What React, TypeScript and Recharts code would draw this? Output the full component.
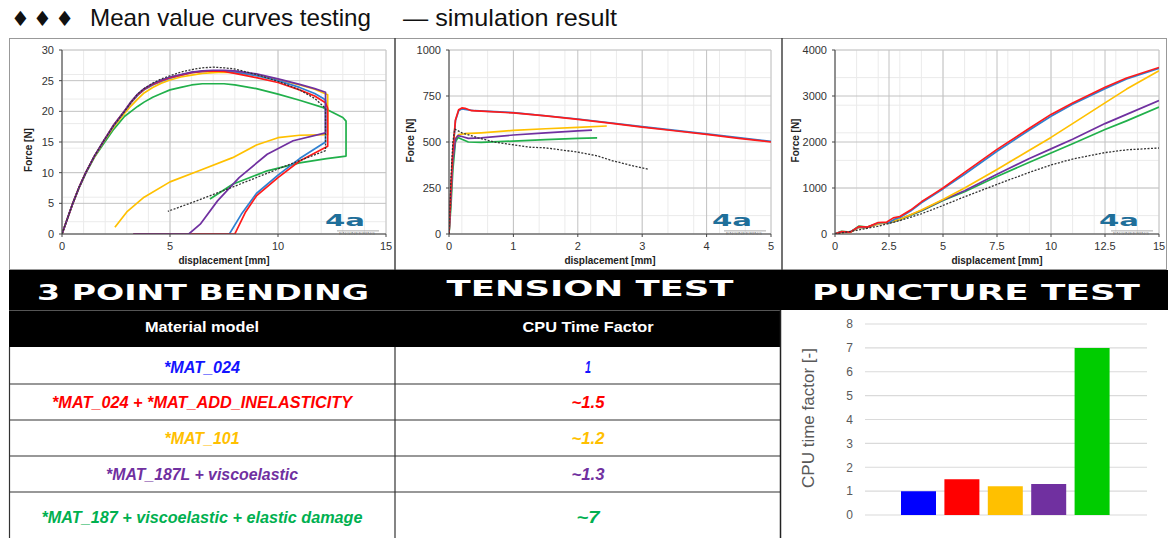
import React from 'react';
import { LineChart, Line, XAxis, YAxis, CartesianGrid, BarChart, Bar, Cell } from 'recharts';

type Pt = [number, number];

const FONT = "'Liberation Sans', Arial, Helvetica, sans-serif";
const NARROW = "'Liberation Sans Narrow', 'Arial Narrow', 'Liberation Sans', Arial, sans-serif";
const WIDE = "'DejaVu Sans', Verdana, sans-serif";

// ---------- 3 point bending: displacement [mm] vs force [N]
const bendX = [0, 5, 10, 15];
const bendY = [0, 5, 10, 15, 20, 25, 30];
const bendTest: Pt[] = [[0,0],[0.5,5],[0.8,7.7],[1.1,10],[1.5,12.7],[1.9,15],[2.4,17.7],[2.9,20],[3.2,21.5],[3.5,22.8],[3.8,23.7],[4.2,24.6],[4.6,25.3],[5,25.8],[5.5,26.4],[6,26.8],[6.5,27.1],[7,27.2],[7.5,27.1],[8,26.9],[9,26.0],[10,24.9],[11,23.5],[11.7,22.1],[12.2,20.5],[12.2,13.6],[10,10.6],[8,7.8],[6,5.1],[4.9,3.7]];
const bendBlue: Pt[] = [[0,0],[0.5,5],[0.8,7.7],[1.1,10],[1.5,12.7],[1.9,15],[2.4,17.7],[2.9,20],[3.2,21.4],[3.5,22.6],[3.8,23.5],[4.2,24.3],[4.6,24.9],[5,25.4],[5.5,25.9],[6,26.3],[6.5,26.5],[7,26.6],[7.5,26.6],[8,26.4],[9,25.8],[10,25.0],[11,23.9],[11.7,22.9],[12.1,22.1],[12.2,21.8],[12.2,15.0],[11,12.3],[10,9.6],[9,6.6],[8.3,3.2],[7.75,0],[6,0]];
const bendRed: Pt[] = [[0,0],[0.5,5],[0.8,7.7],[1.1,10],[1.5,12.7],[1.9,15],[2.4,17.8],[2.9,20.1],[3.2,21.5],[3.5,22.7],[3.8,23.6],[4.2,24.4],[4.6,25.0],[5,25.5],[5.5,25.9],[6,26.3],[6.5,26.5],[7,26.6],[7.5,26.5],[8,26.2],[9,25.5],[10,24.7],[11,23.5],[11.7,22.5],[12.2,21.4],[12.3,20.5],[12.3,14.3],[11,11.9],[10,9.2],[9,6.2],[8.5,3.6],[8.0,0],[3.3,0]];
const bendOrange: Pt[] = [[0,0],[0.5,5],[0.8,7.7],[1.1,10],[1.5,12.6],[1.9,14.9],[2.4,17.5],[2.9,19.7],[3.2,20.9],[3.5,22.0],[3.8,23.0],[4.2,23.9],[4.6,24.6],[5,25.1],[5.5,25.6],[6,25.9],[6.5,26.2],[7,26.3],[7.5,26.4],[8,26.3],[9,25.9],[10,25.2],[11,24.3],[11.7,23.6],[12.3,22.7],[12.3,16.2],[11,16.1],[10,15.7],[9,14.5],[7.9,12.45],[6.4,10.4],[5,8.5],[3.8,6.0],[3.0,3.6],[2.45,1.1]];
const bendPurple: Pt[] = [[0,0],[0.5,5],[0.8,7.7],[1.1,10],[1.5,12.7],[1.9,15],[2.4,17.8],[2.9,20.1],[3.2,21.6],[3.5,22.8],[3.8,23.7],[4.2,24.5],[4.6,25.1],[5,25.6],[5.5,26.0],[6,26.4],[6.5,26.6],[7,26.7],[7.5,26.7],[8,26.6],[9,26.1],[10,25.3],[11,24.4],[11.7,23.7],[12.2,23.1],[12.2,16.5],[10.7,15.2],[9.5,13.0],[8.2,9.2],[7.2,5.4],[6.4,1.6],[5.87,0],[3.3,0]];
const bendGreen: Pt[] = [[0,0],[0.5,5],[0.8,7.6],[1.1,9.9],[1.5,12.5],[1.9,14.6],[2.4,17.1],[2.9,19.2],[3.2,20.0],[3.5,20.8],[3.8,21.5],[4.2,22.3],[4.6,22.9],[5,23.5],[5.5,23.9],[6,24.3],[6.5,24.5],[6.8,24.5],[7.5,24.5],[8,24.3],[9,23.7],[10,22.8],[11,21.8],[12.1,20.6],[13.0,19.0],[13.15,18.4],[13.15,12.7],[12.25,12.3],[11,11.6],[9.5,10.3],[7.9,8.1],[6.85,5.7]];

// ---------- tension test
const tensX = [0, 1, 2, 3, 4, 5];
const tensY = [0, 250, 500, 750, 1000];
const tensTest: Pt[] = [[0,0],[0.03,300],[0.06,500],[0.09,570],[0.2,550],[0.45,523],[0.7,500],[1,485],[1.25,472],[1.5,468],[2,445],[2.3,425],[2.52,400],[2.8,375],[3.09,352]];
const tensBlue: Pt[] = [[0,0],[0.03,240],[0.06,440],[0.1,615],[0.15,670],[0.2,680],[0.3,675],[0.4,670],[1,660],[2,625],[3,584],[4,544],[5,503]];
const tensRed: Pt[] = [[0,0],[0.03,250],[0.06,450],[0.1,620],[0.15,675],[0.2,685],[0.25,683],[0.35,670],[0.5,668],[1,658],[1.5,642],[2,623],[2.5,603],[3,581],[3.5,561],[4,541],[4.5,520],[5,500]];
const tensOrange: Pt[] = [[0,0],[0.03,220],[0.06,420],[0.1,520],[0.15,540],[0.25,545],[0.5,550],[1,563],[1.5,572],[2,580],[2.45,587]];
const tensPurple: Pt[] = [[0,0],[0.03,200],[0.06,400],[0.1,515],[0.14,535],[0.2,530],[0.3,520],[0.5,522],[1,538],[1.5,550],[2,560],[2.22,565]];
const tensGreen: Pt[] = [[0,0],[0.03,150],[0.06,350],[0.1,500],[0.14,525],[0.2,515],[0.3,500],[0.5,498],[1,505],[1.5,513],[2,520],[2.3,522]];

// ---------- puncture test
const puncX = [0, 2.5, 5, 7.5, 10, 12.5, 15];
const puncY = [0, 1000, 2000, 3000, 4000];
const puncTest: Pt[] = [[0,0],[1,80],[2,170],[2.5,230],[3,290],[4,440],[5,620],[6,810],[7.5,1080],[9,1340],[10,1500],[11,1630],[12.5,1770],[13.5,1830],[15,1870]];
const puncBlue: Pt[] = [[0,0],[0.3,45],[0.7,40],[1.1,150],[1.5,145],[2,240],[2.5,250],[2.8,330],[3,360],[3.5,500],[4,680],[5,980],[6,1300],[7.5,1800],[9,2260],[10,2560],[11,2820],[12.5,3160],[13.5,3370],[15,3600]];
const puncRed: Pt[] = [[0,0],[0.3,50],[0.7,40],[1.1,160],[1.5,150],[2,250],[2.4,260],[2.7,350],[3,380],[3.5,520],[4,700],[4.5,850],[5,1000],[6,1340],[7.5,1840],[9,2300],[10,2600],[11,2850],[12.5,3190],[13.5,3390],[15,3620]];
const puncOrange: Pt[] = [[0,0],[0.3,40],[0.7,35],[1.1,140],[1.5,140],[2,220],[2.5,250],[3,320],[3.5,420],[4,520],[5,750],[6,1000],[7.5,1400],[9,1820],[10,2100],[11,2400],[12.5,2850],[13.5,3150],[15,3550]];
const puncPurple: Pt[] = [[0,0],[0.3,45],[0.7,38],[1.1,150],[1.5,145],[2,225],[2.5,245],[3,320],[4,510],[5,740],[6,940],[7.5,1300],[9,1640],[10,1850],[11,2060],[12.5,2400],[13.5,2600],[15,2900]];
const puncGreen: Pt[] = [[0,0],[0.3,60],[0.7,40],[1.1,170],[1.5,150],[2,230],[2.5,240],[3,310],[4,500],[5,730],[6,920],[7.5,1250],[9,1560],[10,1760],[11,1960],[12.5,2270],[13.5,2460],[15,2760]];

// ---------- CPU time
const modelNames = ['*MAT_024', '*MAT_024 + *MAT_ADD_INELASTICITY', '*MAT_101', '*MAT_187L + viscoelastic', '*MAT_187 + viscoelastic  + elastic damage'];
const cpuLabels = ['1', '~1.5', '~1.2', '~1.3', '~7'];
const cpuFactors = [1, 1.5, 1.2, 1.3, 7];
const cpuTicks = [0, 1, 2, 3, 4, 5, 6, 7, 8];

const C_BLUE = '#2f80d1';
const C_RED = '#ff1a1a';
const C_ORANGE = '#ffc000';
const C_PURPLE = '#7030a0';
const C_GREEN = '#21b04b';
const C_TEST = '#333333';
const TABLE_COLORS = ['#1414ff', '#ff0000', '#ffc000', '#7030a0', '#00b050'];
const BAR_COLORS = ['#0000ff', '#ff0000', '#ffc000', '#7030a0', '#00cc00'];

function steps(a: number, b: number, s: number): number[] {
  const out: number[] = [];
  const n = Math.round((b - a) / s);
  for (let i = 0; i <= n; i++) out.push(+(a + i * s).toFixed(4));
  return out;
}

type Series = { data: Pt[]; color: string; dotted?: boolean };

function CurveChart(p: {
  left: number; width: number; yAxisWidth: number; marginRight: number;
  xDomain: [number, number]; xTicks: number[]; xMinor: number[];
  yDomain: [number, number]; yTicks: number[]; yMinor: number[];
  series: Series[]; yLabelX: number; yLabelDy: number;
}) {
  const tickStyle = { fontSize: 11, fill: '#333', fontFamily: FONT };
  return (
    <div style={{ position: 'absolute', left: p.left, top: 38 }}>
      <LineChart width={p.width} height={232} margin={{ top: 12, right: p.marginRight, bottom: 0, left: 0 }}>
        <XAxis xAxisId="m" type="number" dataKey="x" domain={p.xDomain} ticks={p.xMinor} hide allowDataOverflow />
        <YAxis yAxisId="m" type="number" domain={p.yDomain} ticks={p.yMinor} hide allowDataOverflow />
        <CartesianGrid xAxisId="m" yAxisId="m" stroke="#ebebeb" strokeWidth={1} />
        <CartesianGrid stroke="#c2c2c2" strokeWidth={1} />
        <XAxis
          dataKey="x" type="number" domain={p.xDomain} ticks={p.xTicks} interval={0} allowDataOverflow
          height={36} tickSize={3} tickMargin={5} tick={tickStyle} stroke="#444"
          label={{ value: 'displacement [mm]', position: 'insideBottom', offset: 6, fontSize: 10, fontWeight: 'bold', fill: '#222', fontFamily: FONT }}
        />
        <YAxis
          type="number" domain={p.yDomain} ticks={p.yTicks} interval={0} allowDataOverflow
          width={p.yAxisWidth} tickSize={3} tickMargin={5} tick={tickStyle} stroke="#444"
          label={{ value: 'Force [N]', angle: -90, position: 'insideLeft', offset: p.yLabelX, dy: p.yLabelDy, fontSize: 10, fontWeight: 'bold', fill: '#222', fontFamily: FONT, style: { textAnchor: 'middle' } }}
        />
        {p.series.map((s, i) => (
          <Line
            key={i}
            data={s.data.map(([x, y]) => ({ x, y }))}
            dataKey="y"
            type="linear"
            stroke={s.color}
            strokeWidth={s.dotted ? 1.3 : 1.7}
            strokeDasharray={s.dotted ? '2 1.5' : undefined}
            strokeLinejoin="round"
            dot={false}
            activeDot={false}
            isAnimationActive={false}
          />
        ))}
      </LineChart>
    </div>
  );
}

function Logo({ x }: { x: number }) {
  return (
    <g>
      <text x={x} y={226} fontFamily={WIDE} fontWeight="bold" fontSize={16} fill="#1f6f9a" textLength={40} lengthAdjust="spacingAndGlyphs">4a</text>
      <rect x={x + 12} y={230.5} width={42} height={0.8} fill="#999" />
      <text x={x + 14} y={235} fontFamily={FONT} fontSize={3} fill="#777" textLength={36} lengthAdjust="spacingAndGlyphs">ENGINEERING</text>
    </g>
  );
}

export default function App() {
  const rowCenters = [367, 402, 438, 474, 517];
  const nameWidths = [76, 300, 75, 192, 321];
  const valWidths = [6, 33, 33, 33, 23];
  const bars = cpuFactors.map((v, i) => ({ name: modelNames[i], v }));
  return (
    <div style={{ position: 'absolute', left: 0, top: 0, width: 1168, height: 538, background: '#fff', overflow: 'hidden' }}>
      <svg width={1168} height={538} style={{ position: 'absolute', left: 0, top: 0 }}>
        {/* header */}
        <text x={11} y={26} fontFamily={WIDE} fontSize={21} fill="#111" textLength={63} lengthAdjust="spacing">♦♦♦</text>
        <text x={90} y={26} fontFamily={FONT} fontSize={24} fill="#111" textLength={281} lengthAdjust="spacingAndGlyphs">Mean value curves testing</text>
        <text x={403} y={26} fontFamily={FONT} fontSize={24} fill="#111" textLength={214} lengthAdjust="spacingAndGlyphs">— simulation result</text>
        {/* panel frames */}
        <rect x={9.5} y={38.5} width={1157} height={231} fill="#fff" stroke="#999" strokeWidth={1} />
        <line x1={395} y1={38} x2={395} y2={270} stroke="#444" strokeWidth={1.5} />
        <line x1={782} y1={38} x2={782} y2={270} stroke="#444" strokeWidth={1.5} />
        {/* banner */}
        <rect x={9} y={270} width={1159} height={40} fill="#000" />
        <text x={203} y={300} textAnchor="middle" fontFamily={WIDE} fontWeight="bold" fontSize={22} fill="#fff" textLength={332} lengthAdjust="spacingAndGlyphs">3 POINT BENDING</text>
        <text x={590} y={296} textAnchor="middle" fontFamily={WIDE} fontWeight="bold" fontSize={22} fill="#fff" textLength={287} lengthAdjust="spacingAndGlyphs">TENSION TEST</text>
        <text x={976} y={300} textAnchor="middle" fontFamily={WIDE} fontWeight="bold" fontSize={22} fill="#fff" textLength={328} lengthAdjust="spacingAndGlyphs">PUNCTURE TEST</text>
        <line x1={9} y1={310.5} x2={780} y2={310.5} stroke="#555" strokeWidth={1} />
        {/* table */}
        <rect x={9} y={311} width={771} height={36} fill="#000" />
        <text x={202} y={332} textAnchor="middle" fontFamily={NARROW} fontWeight="bold" fontSize={15} fill="#fff" textLength={114} lengthAdjust="spacingAndGlyphs">Material model</text>
        <text x={588} y={332} textAnchor="middle" fontFamily={NARROW} fontWeight="bold" fontSize={15} fill="#fff" textLength={131} lengthAdjust="spacingAndGlyphs">CPU Time Factor</text>
        {[384, 420, 456, 492].map((y) => (
          <line key={y} x1={9} y1={y} x2={780} y2={y} stroke="#333" strokeWidth={1.2} />
        ))}
        <line x1={9.5} y1={347} x2={9.5} y2={538} stroke="#333" strokeWidth={1.2} />
        <line x1={395} y1={347} x2={395} y2={538} stroke="#333" strokeWidth={1.2} />
        <line x1={780.5} y1={310} x2={780.5} y2={538} stroke="#222" strokeWidth={1.5} />
        {modelNames.map((n, i) => (
          <text key={n} x={202} y={rowCenters[i] + 6} textAnchor="middle" fontFamily={NARROW} fontWeight="bold" fontStyle="italic" fontSize={16} fill={TABLE_COLORS[i]} textLength={nameWidths[i]} lengthAdjust="spacingAndGlyphs">{n}</text>
        ))}
        {cpuLabels.map((n, i) => (
          <text key={n} x={588} y={rowCenters[i] + 6} textAnchor="middle" fontFamily={NARROW} fontWeight="bold" fontStyle="italic" fontSize={16} fill={TABLE_COLORS[i]} textLength={valWidths[i]} lengthAdjust="spacingAndGlyphs">{n}</text>
        ))}
      </svg>

      <CurveChart
        left={9} width={386} yAxisWidth={53} marginRight={9}
        xDomain={[0, 15]} xTicks={bendX} xMinor={steps(0, 15, 1)}
        yDomain={[0, 30]} yTicks={bendY} yMinor={steps(0, 30, 1)}
        yLabelX={19} yLabelDy={8}
        series={[
          { data: bendGreen, color: C_GREEN },
          { data: bendOrange, color: C_ORANGE },
          { data: bendBlue, color: C_BLUE },
          { data: bendRed, color: C_RED },
          { data: bendPurple, color: C_PURPLE },
          { data: bendTest, color: C_TEST, dotted: true },
        ]}
      />
      <CurveChart
        left={395} width={387} yAxisWidth={54} marginRight={11}
        xDomain={[0, 5]} xTicks={tensX} xMinor={steps(0, 5, 0.2)}
        yDomain={[0, 1000]} yTicks={tensY} yMinor={steps(0, 1000, 50)}
        yLabelX={15} yLabelDy={-1.5}
        series={[
          { data: tensGreen, color: C_GREEN },
          { data: tensOrange, color: C_ORANGE },
          { data: tensPurple, color: C_PURPLE },
          { data: tensBlue, color: C_BLUE },
          { data: tensRed, color: C_RED },
          { data: tensTest, color: C_TEST, dotted: true },
        ]}
      />
      <CurveChart
        left={782} width={386} yAxisWidth={53} marginRight={9}
        xDomain={[0, 15]} xTicks={puncX} xMinor={steps(0, 15, 0.5)}
        yDomain={[0, 4000]} yTicks={puncY} yMinor={steps(0, 4000, 200)}
        yLabelX={13} yLabelDy={-1.5}
        series={[
          { data: puncGreen, color: C_GREEN },
          { data: puncPurple, color: C_PURPLE },
          { data: puncOrange, color: C_ORANGE },
          { data: puncBlue, color: C_BLUE },
          { data: puncRed, color: C_RED },
          { data: puncTest, color: C_TEST, dotted: true },
        ]}
      />

      <svg width={1168} height={538} style={{ position: 'absolute', left: 0, top: 0, pointerEvents: 'none' }}>
        <Logo x={325} />
        <Logo x={712} />
        <Logo x={1099} />
      </svg>

      <div style={{ position: 'absolute', left: 782, top: 311 }}>
        <BarChart width={386} height={227} data={bars} margin={{ top: 13, right: 21, bottom: 23, left: 0 }}>
          <CartesianGrid vertical={false} stroke="#dadada" strokeWidth={1.2} />
          <XAxis dataKey="name" type="category" hide padding={{ left: 32, right: 33 }} />
          <YAxis
            type="number" domain={[0, 8]} ticks={cpuTicks} interval={0} width={83}
            axisLine={false} tickLine={false} tickSize={6} tickMargin={6}
            tick={{ fontSize: 12, fill: '#595959', fontFamily: FONT }}
            label={{ value: 'CPU time factor [-]', angle: -90, position: 'insideLeft', offset: 26, dy: -1.5, fontSize: 17, fill: '#595959', fontFamily: FONT, style: { textAnchor: 'middle' } }}
          />
          <Bar dataKey="v" barSize={35} isAnimationActive={false}>
            {bars.map((b, i) => (
              <Cell key={b.name} fill={BAR_COLORS[i]} />
            ))}
          </Bar>
        </BarChart>
      </div>
    </div>
  );
}
